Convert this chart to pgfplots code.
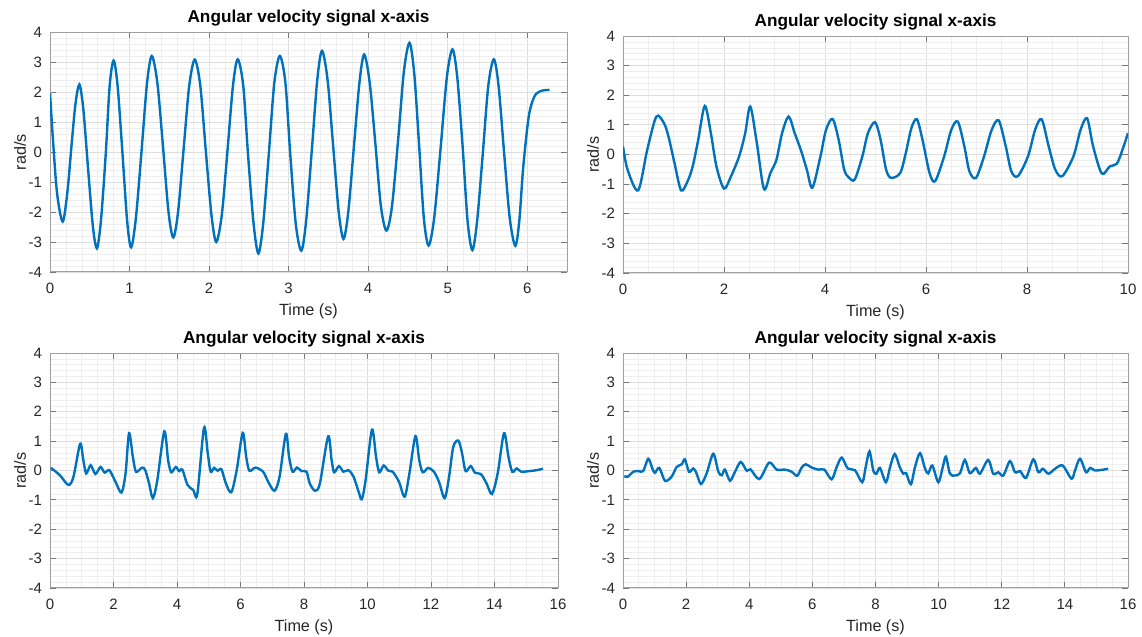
\documentclass[border=0pt]{standalone}
\usepackage{pgfplots}
\pgfplotsset{compat=1.18}
\usepackage{fontspec}
\setmainfont{Liberation Sans}
\definecolor{mblue}{rgb}{0,0.447,0.741}
\definecolor{tlab}{RGB}{38,38,38}
\definecolor{gmaj}{RGB}{222,222,222}
\definecolor{gmin}{RGB}{238,238,238}
\definecolor{axc}{RGB}{160,160,160}
\definecolor{tkc}{RGB}{120,120,120}
\pgfplotsset{mstyle/.style={
  scale only axis, anchor=south west,
  ymin=-4, ymax=4, ytick={-4,-3,-2,-1,0,1,2,3,4},
  grid=both,
  major grid style={draw=gmaj, line width=0.4pt},
  minor grid style={draw=gmin, line width=0.3pt},
  minor y tick num=4,
  axis line style={draw=axc, line width=0.5pt},
  tick style={draw=tkc, line width=0.4pt},
  major tick length=3pt, minor tick length=0pt,
  tick label style={font=\fontsize{7.5}{8.5}\selectfont, text=tlab},
  /pgf/number format/assume math mode=true,
  title style={font=\bfseries\fontsize{8.6}{10}\selectfont, at={(0.5,1)}, anchor=center, yshift=1pt},
  label style={font=\fontsize{8.1}{9.5}\selectfont, text=tlab},
  xlabel style={at={(0.5,0)}, anchor=center, yshift=-19.5pt},
  ylabel style={at={(0,0.5)}, anchor=center, yshift=15pt},
  xticklabel style={anchor=center, yshift=-8pt},
  yticklabel style={anchor=east, xshift=-0.5pt},
  xlabel={Time (s)}, ylabel={rad/s}, title={Angular velocity signal x-axis},
}}
\begin{document}
\begin{tikzpicture}
\path[use as bounding box] (0,0) rectangle (571pt,318.5pt);

% Top left
\begin{axis}[mstyle, at={(25pt,182.5pt)}, width=258.5pt, height=120pt,
  xmin=0, xmax=6.5, xtick={0,1,2,3,4,5,6}, minor x tick num=4]
\addplot[mblue, line width=1.2pt, smooth] coordinates {
(0,1.96) (0.04,0.3) (0.09,-1.4) (0.16,-2.32) (0.22,-1.3) (0.27,0.2) (0.32,1.6) (0.37,2.25)
(0.42,1.4) (0.48,-0.6) (0.54,-2.5) (0.59,-3.21) (0.64,-2.3) (0.70,-0.1) (0.75,2.2) (0.80,3.05)
(0.85,2.2) (0.91,0.0) (0.97,-2.3) (1.02,-3.18) (1.08,-2.2) (1.15,0.0) (1.22,2.3) (1.28,3.2)
(1.35,2.3) (1.42,0.2) (1.49,-2.0) (1.55,-2.85) (1.61,-2.0) (1.68,0.1) (1.75,2.2) (1.82,3.08)
(1.89,2.2) (1.96,0.0) (2.03,-2.1) (2.09,-3.0) (2.16,-2.1) (2.23,0.0) (2.30,2.2) (2.36,3.09)
(2.43,2.2) (2.49,-0.1) (2.56,-2.4) (2.62,-3.38) (2.68,-2.4) (2.75,-0.1) (2.82,2.3) (2.89,3.2)
(2.96,2.3) (3.02,-0.05) (3.09,-2.4) (3.16,-3.29) (3.22,-2.3) (3.29,0.0) (3.36,2.4) (3.42,3.37)
(3.49,2.4) (3.56,0.2) (3.63,-2.0) (3.69,-2.9) (3.75,-2.0) (3.82,0.15) (3.89,2.3) (3.95,3.25)
(4.02,2.3) (4.09,0.3) (4.16,-1.8) (4.23,-2.62) (4.30,-1.8) (4.38,0.5) (4.45,2.7) (4.52,3.64)
(4.58,2.6) (4.64,0.25) (4.70,-2.2) (4.76,-3.12) (4.83,-2.2) (4.91,0.1) (4.99,2.5) (5.06,3.42)
(5.12,2.5) (5.19,0.1) (5.25,-2.3) (5.31,-3.27) (5.37,-2.3) (5.44,-0.1) (5.51,2.2) (5.58,3.09)
(5.64,2.2) (5.71,-0.05) (5.78,-2.2) (5.85,-3.13) (5.90,-2.3) (5.95,-0.5) (6.02,1.2) (6.09,1.85)
(6.16,2.02) (6.22,2.06) (6.28,2.07)
};
\end{axis}

% Top right
\begin{axis}[mstyle, at={(311.5pt,182pt)}, width=252.5pt, height=118.5pt,
  xmin=0, xmax=10, xtick={0,2,4,6,8,10}, minor x tick num=3]
\addplot[mblue, line width=1.2pt, smooth] coordinates {
(0.00,0.27) (0.09,-0.51) (0.30,-1.21) (0.48,0.16) (0.66,1.28) (0.81,1.06) (0.90,0.61) (1.02,-0.29)
(1.15,-1.21) (1.28,-0.90) (1.38,-0.40) (1.49,0.50) (1.62,1.64) (1.74,0.72) (1.85,-0.40) (2.00,-1.15)
(2.14,-0.73) (2.30,-0.06) (2.42,0.72) (2.52,1.62) (2.65,0.39) (2.79,-1.16) (2.92,-0.62) (3.04,-0.17)
(3.15,0.72) (3.28,1.28) (3.40,0.72) (3.53,0.11) (3.64,-0.51) (3.75,-1.12) (3.91,-0.06) (4.02,0.83)
(4.15,1.20) (4.27,0.50) (4.38,-0.51) (4.48,-0.79) (4.59,-0.84) (4.74,-0.06) (4.85,0.72) (4.99,1.09)
(5.10,0.50) (5.21,-0.51) (5.31,-0.79) (5.49,-0.62) (5.60,0.05) (5.71,0.89) (5.82,1.19) (5.93,0.50)
(6.07,-0.62) (6.18,-0.90) (6.36,-0.06) (6.50,0.83) (6.63,1.11) (6.76,0.27) (6.86,-0.57) (6.99,-0.79)
(7.15,-0.06) (7.30,0.83) (7.44,1.15) (7.58,0.27) (7.69,-0.57) (7.82,-0.73) (8.02,-0.06) (8.16,0.83)
(8.29,1.19) (8.43,0.27) (8.56,-0.51) (8.70,-0.73) (8.92,-0.06) (9.06,0.83) (9.19,1.22) (9.31,0.27)
(9.48,-0.64) (9.64,-0.40) (9.78,-0.31) (9.89,0.16) (10.0,0.72)
};
\end{axis}

% Bottom left
\begin{axis}[mstyle, at={(25pt,24.5pt)}, width=254pt, height=117.5pt,
  xmin=0, xmax=16, xtick={0,2,4,6,8,10,12,14,16}, minor x tick num=3]
\addplot[mblue, line width=1.2pt, smooth] coordinates {
(0.03,0.09) (0.31,-0.16) (0.58,-0.49) (0.74,-0.21) (0.95,0.91) (1.05,0.35) (1.14,-0.10) (1.28,0.18)
(1.43,-0.12) (1.59,0.12) (1.72,-0.07) (1.87,0.01) (2.06,-0.38) (2.25,-0.75) (2.38,-0.10) (2.49,1.27)
(2.61,0.46) (2.71,-0.04) (2.90,0.10) (3.00,0.01) (3.12,-0.44) (3.24,-0.94) (3.38,-0.33) (3.60,1.33)
(3.72,0.35) (3.82,-0.06) (3.96,0.12) (4.07,-0.02) (4.17,0.03) (4.33,-0.49) (4.51,-0.66) (4.64,-0.80)
(4.85,1.45) (4.97,0.57) (5.06,-0.04) (5.17,0.09) (5.28,-0.01) (5.40,0.04) (5.54,-0.44) (5.71,-0.74)
(5.88,0.01) (6.07,1.28) (6.18,0.46) (6.28,-0.01) (6.47,0.10) (6.71,-0.04) (6.87,-0.38) (7.07,-0.69)
(7.23,-0.21) (7.43,1.25) (7.53,0.46) (7.64,-0.04) (7.78,0.10) (7.92,-0.02) (8.08,-0.04) (8.18,-0.44)
(8.35,-0.69) (8.50,-0.44) (8.76,1.16) (8.87,0.35) (8.95,-0.06) (9.10,0.15) (9.24,-0.04) (9.40,0.01)
(9.56,-0.21) (9.72,-0.72) (9.82,-0.98) (9.94,-0.33) (10.14,1.39) (10.27,0.46) (10.37,-0.06) (10.51,0.17)
(10.66,-0.01) (10.79,-0.04) (10.99,-0.38) (11.17,-0.89) (11.32,-0.10) (11.51,1.17) (11.63,0.35) (11.74,-0.06)
(11.91,0.09) (12.09,-0.04) (12.25,-0.38) (12.43,-0.94) (12.57,-0.21) (12.70,0.80) (12.86,1.02) (12.97,0.63)
(13.09,-0.02) (13.25,0.15) (13.39,-0.08) (13.57,-0.12) (13.75,-0.44) (13.92,-0.80) (14.10,-0.10) (14.30,1.27)
(14.44,0.46) (14.56,-0.04) (14.70,0.07) (14.84,-0.04) (15.10,-0.02) (15.32,0.01) (15.53,0.06)
};
\end{axis}

% Bottom right
\begin{axis}[mstyle, at={(311.5pt,24.5pt)}, width=252.5pt, height=117.5pt,
  xmin=0, xmax=16, xtick={0,2,4,6,8,10,12,14,16}, minor x tick num=3]
\addplot[mblue, line width=1.2pt, smooth] coordinates {
(0.04,-0.19) (0.15,-0.21) (0.33,-0.04) (0.49,-0.02) (0.64,-0.02) (0.80,0.40) (0.93,0.07) (1.01,-0.08)
(1.15,0.09) (1.33,-0.35) (1.54,-0.21) (1.70,0.12) (1.86,0.21) (1.96,0.38) (2.09,-0.04) (2.23,0.07)
(2.33,-0.10) (2.47,-0.46) (2.65,-0.10) (2.86,0.57) (3.02,-0.04) (3.13,-0.16) (3.23,0.03) (3.39,-0.35)
(3.55,-0.04) (3.73,0.29) (3.92,-0.01) (4.04,0.04) (4.32,-0.29) (4.63,0.27) (4.87,0.03) (5.13,0.03)
(5.34,-0.04) (5.52,-0.18) (5.66,0.10) (5.79,0.21) (5.98,0.10) (6.19,0.03) (6.38,0.03) (6.61,-0.30)
(6.77,0.12) (6.93,0.44) (7.12,0.07) (7.35,0.01) (7.58,-0.40) (7.69,0.12) (7.81,0.65) (7.93,0.00)
(8.03,-0.11) (8.14,0.09) (8.33,-0.40) (8.46,0.11) (8.61,0.56) (8.77,0.11) (8.88,-0.11) (8.97,-0.09)
(9.12,-0.47) (9.25,0.11) (9.41,0.59) (9.57,0.06) (9.67,-0.10) (9.80,0.17) (9.99,-0.40) (10.13,0.11)
(10.23,0.47) (10.36,-0.11) (10.52,-0.17) (10.68,-0.09) (10.83,0.36) (10.99,-0.09) (11.18,0.09) (11.31,-0.11)
(11.57,0.36) (11.73,-0.11) (11.89,-0.06) (12.05,-0.17) (12.26,0.32) (12.42,-0.06) (12.58,-0.02) (12.77,-0.25)
(13.00,0.38) (13.16,-0.06) (13.30,0.06) (13.48,-0.11) (13.69,0.06) (13.93,0.17) (14.21,-0.28) (14.32,0.00)
(14.48,0.40) (14.67,-0.06) (14.80,0.09) (14.95,0.00) (15.16,0.02) (15.37,0.06)
};
\end{axis}
\end{tikzpicture}
\end{document}
